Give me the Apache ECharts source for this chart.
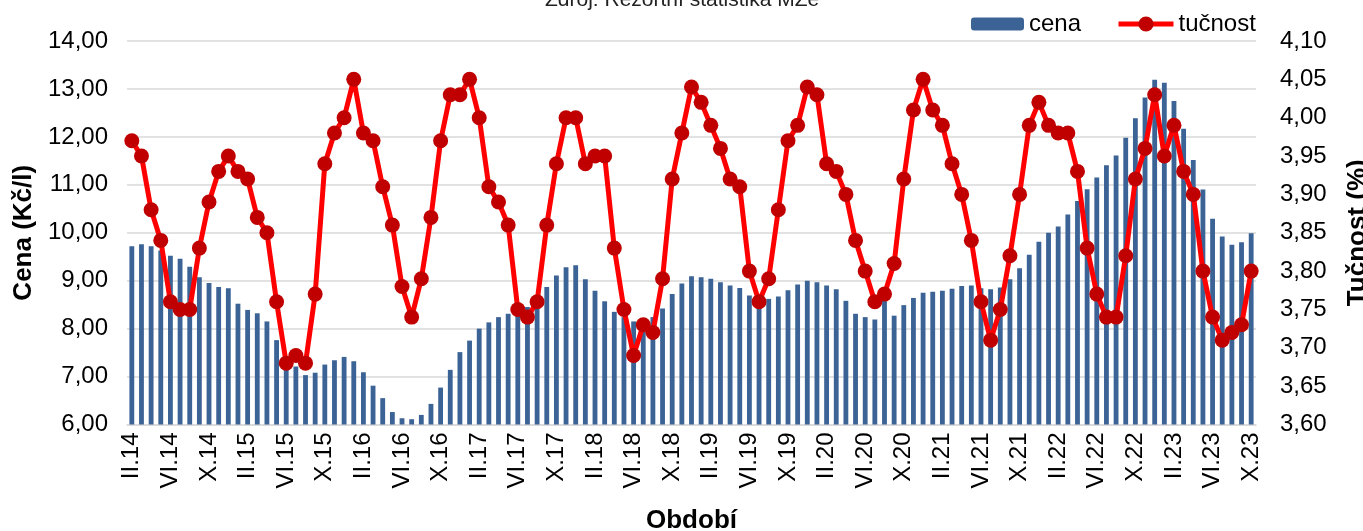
<!DOCTYPE html>
<html>
<head>
<meta charset="utf-8">
<script src="https://cdn.jsdelivr.net/npm/echarts@6/dist/echarts.min.js"></script>
<style>
html,body{margin:0;padding:0;background:#fff;}
#chart{width:1363px;height:531px;}
</style>
</head>
<body>
<div id="chart"></div>
<script>
// Month labels (Roman numerals) and years of the period II.14 – X.23
const monthNames = ['I','II','III','IV','V','VI','VII','VIII','IX','X','XI','XII'];
const startYear = 2014, startMonth = 2, endYear = 2023, endMonth = 10;

// Cena (Kč/l) – blue bars, left axis
const cena = [
  9.72, 9.76, 9.72, 9.63, 9.52, 9.46, 9.29, 9.07, 8.95, 8.87, 8.84,
  8.52, 8.39, 8.32, 8.15, 7.76, 7.28, 7.21, 7.03, 7.08, 7.25, 7.34, 7.41,
  7.32, 7.09, 6.81, 6.55, 6.26, 6.13, 6.11, 6.20, 6.43, 6.77, 7.14, 7.51,
  7.75, 8.00, 8.13, 8.24, 8.31, 8.36, 8.45, 8.63, 8.87, 9.11, 9.28, 9.32,
  9.03, 8.79, 8.57, 8.35, 8.24, 8.15, 8.12, 8.24, 8.42, 8.72, 8.94, 9.09,
  9.07, 9.04, 8.97, 8.90, 8.85, 8.69, 8.63, 8.62, 8.67, 8.80, 8.92, 9.00,
  8.97, 8.90, 8.82, 8.58, 8.31, 8.24, 8.19, 8.62, 8.27, 8.49, 8.64, 8.75,
  8.77, 8.79, 8.83, 8.89, 8.90, 8.84, 8.82, 8.86, 9.03, 9.26, 9.54, 9.81,
  10.00, 10.13, 10.38, 10.66, 10.91, 11.15, 11.41, 11.61, 11.98, 12.39, 12.82, 13.19,
  13.13, 12.75, 12.17, 11.52, 10.90, 10.29, 9.92, 9.75, 9.80, 9.99
];

// Tučnost (%) – red line, right axis
const tucnost = [
  3.97, 3.95, 3.88, 3.84, 3.76, 3.75, 3.75, 3.83, 3.89, 3.93, 3.95,
  3.93, 3.92, 3.87, 3.85, 3.76, 3.68, 3.69, 3.68, 3.77, 3.94, 3.98, 4.00,
  4.05, 3.98, 3.97, 3.91, 3.86, 3.78, 3.74, 3.79, 3.87, 3.97, 4.03, 4.03,
  4.05, 4.00, 3.91, 3.89, 3.86, 3.75, 3.74, 3.76, 3.86, 3.94, 4.00, 4.00,
  3.94, 3.95, 3.95, 3.83, 3.75, 3.69, 3.73, 3.72, 3.79, 3.92, 3.98, 4.04,
  4.02, 3.99, 3.96, 3.92, 3.91, 3.80, 3.76, 3.79, 3.88, 3.97, 3.99, 4.04,
  4.03, 3.94, 3.93, 3.90, 3.84, 3.80, 3.76, 3.77, 3.81, 3.92, 4.01, 4.05,
  4.01, 3.99, 3.94, 3.90, 3.84, 3.76, 3.71, 3.75, 3.82, 3.90, 3.99, 4.02,
  3.99, 3.98, 3.98, 3.93, 3.83, 3.77, 3.74, 3.74, 3.82, 3.92, 3.96, 4.03,
  3.95, 3.99, 3.93, 3.90, 3.80, 3.74, 3.71, 3.72, 3.73, 3.80
];

const categories = [];
for (let y = startYear; y <= endYear; y++) {
  for (let m = 1; m <= 12; m++) {
    if (y === startYear && m < startMonth) continue;
    if (y === endYear && m > endMonth) break;
    categories.push(monthNames[m - 1] + '.' + String(y).slice(2));
  }
}

const titleText = 'Zdroj: Rezortní statistika MZe';
const FONT = '"Liberation Sans", Arial, sans-serif';
const fmt = v => v.toFixed(2).replace('.', ',');

const chart = echarts.init(document.getElementById('chart'), null, {renderer: 'canvas'});
chart.setOption({
  animation: false,
  textStyle: {fontFamily: FONT},
  graphic: [{
    type: 'text',
    left: 545, top: -10,
    style: {text: titleText, font: '21px ' + FONT, fill: '#222'}
  }],
  legend: [{
    left: 966, top: 7,
    itemWidth: 53, itemHeight: 13, itemGap: 6,
    textStyle: {fontSize: 24, color: '#000', fontFamily: FONT},
    data: ['cena']
  }, {
    left: 1111, top: 7,
    itemWidth: 55, itemHeight: 19, itemGap: 6,
    textStyle: {fontSize: 24, color: '#000', fontFamily: FONT},
    lineStyle: {width: 5},
    data: ['tučnost']
  }],
  grid: {left: 127, right: 107, top: 41, bottom: 106.5, containLabel: false, outerBoundsMode: 'none'},
  xAxis: {
    type: 'category',
    data: categories,
    boundaryGap: true,
    axisLine: {lineStyle: {color: '#d9d9d9', width: 1.5}},
    axisTick: {interval: 3, length: 6, lineStyle: {color: '#d9d9d9', width: 1.5}},
    axisLabel: {interval: 3, rotate: 90, margin: 8, fontSize: 24, color: '#000', fontFamily: FONT},
    name: 'Období', nameLocation: 'middle', nameGap: 83,
    nameTextStyle: {fontSize: 26, fontWeight: 'bold', color: '#000', fontFamily: FONT}
  },
  yAxis: [{
    type: 'value', min: 6, max: 14, interval: 1,
    axisLine: {show: false}, axisTick: {show: false},
    splitLine: {lineStyle: {color: '#d9d9d9', width: 1.5}},
    axisLabel: {formatter: fmt, fontSize: 24, color: '#000', margin: 19, fontFamily: FONT},
    name: 'Cena (Kč/l)', nameLocation: 'middle', nameRotate: 90, nameGap: 88,
    nameTextStyle: {fontSize: 26, fontWeight: 'bold', color: '#000', fontFamily: FONT}
  }, {
    type: 'value', min: 3.6, max: 4.1, interval: 0.05, position: 'right',
    axisLine: {show: false}, axisTick: {show: false},
    splitLine: {show: false},
    axisLabel: {formatter: fmt, fontSize: 24, color: '#000', margin: 24, fontFamily: FONT},
    name: 'Tučnost (%)', nameLocation: 'middle', nameRotate: 90, nameGap: 89,
    nameTextStyle: {fontSize: 26, fontWeight: 'bold', color: '#000', fontFamily: FONT}
  }],
  series: [{
    name: 'cena', type: 'bar', yAxisIndex: 0, data: cena,
    barWidth: '50%',
    itemStyle: {color: '#3b6395'}
  }, {
    name: 'tučnost', type: 'line', yAxisIndex: 1, data: tucnost,
    symbol: 'circle', symbolSize: 15, showAllSymbol: true,
    lineStyle: {color: '#ff0000', width: 5},
    itemStyle: {color: '#c00000'},
    z: 3
  }]
});
</script>
</body>
</html>
